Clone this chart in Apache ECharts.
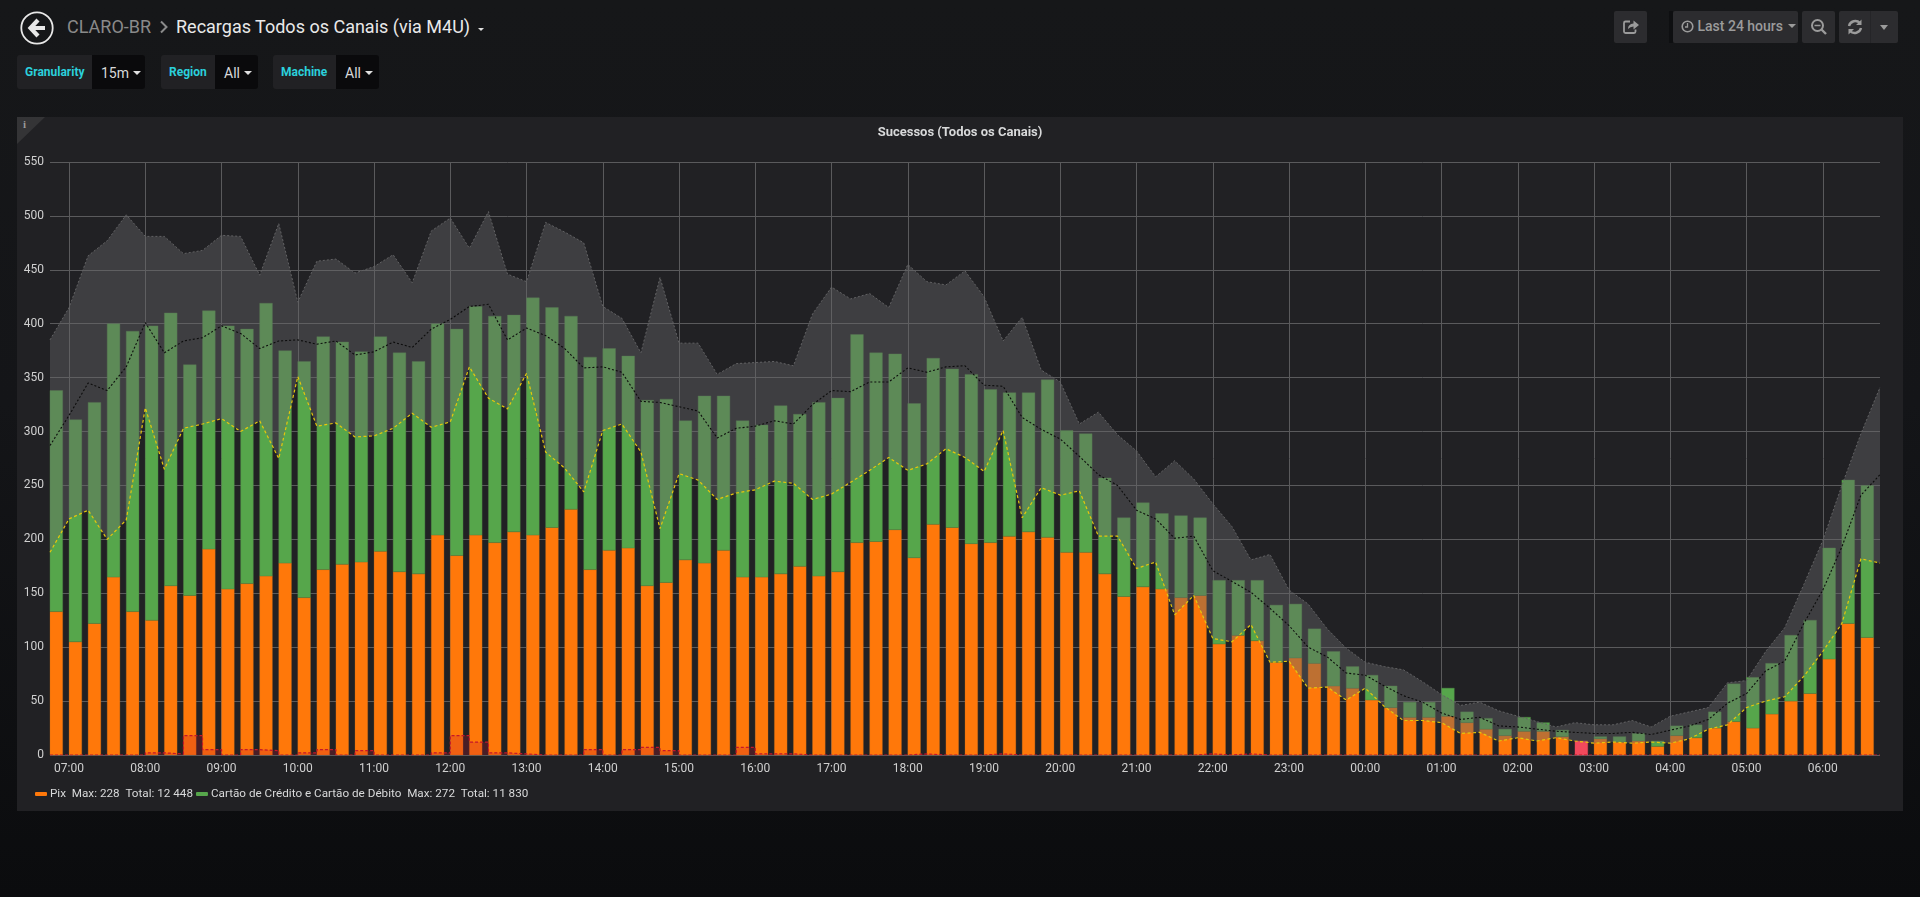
<!DOCTYPE html>
<html>
<head>
<meta charset="utf-8">
<title>Recargas Todos os Canais (via M4U)</title>
<script src="https://cdn.jsdelivr.net/npm/echarts@6/dist/echarts.min.js"></script>
<style>
html,body{margin:0;padding:0;width:1920px;height:897px;overflow:hidden;font-family:Roboto,"Open Sans",sans-serif;background:linear-gradient(#161719 0,#141518 45%,#0b0c0e 100%);}
.a{position:absolute;box-sizing:border-box;white-space:nowrap;}
#panel{left:17px;top:117px;width:1886px;height:694px;background:#212124;}
#corner{left:17px;top:117px;width:0;height:0;border-top:27px solid #343436;border-right:28px solid transparent;}
#info{left:23px;top:118px;font:bold 11px "Liberation Serif",serif;color:#9a9a9a;}
#chart{left:0;top:0;width:1920px;height:897px;}
.crumb{font-size:18px;line-height:24px;top:15px;}
.lab{height:34px;top:55px;background:#212124;color:#2bd0dc;font-weight:bold;font-size:12px;line-height:35px;padding-left:8px;border-radius:3px 0 0 3px;}
.val{height:34px;top:55px;background:#0a0a0c;color:#d8d9da;font-size:14px;line-height:36px;padding-left:9px;border-radius:0 3px 3px 0;}
.caret{display:inline-block;width:0;height:0;border-left:4px solid transparent;border-right:4px solid transparent;border-top:4px solid #e0e0e0;vertical-align:middle;margin-left:4px;margin-top:-3px;}
.btn{top:11px;height:32px;background:#2c2c2f;border-radius:2px;color:#9b9b9b;}
</style>
</head>
<body>
<div class="a" id="panel"></div>
<div class="a" id="corner"></div>
<div class="a" id="info">i</div>

<svg class="a" style="left:20px;top:11px" width="34" height="34" viewBox="0 0 34 34">
  <circle cx="17" cy="17" r="15.7" fill="none" stroke="#e8e8e8" stroke-width="1.8"/>
  <path d="M18 9 L10.5 17 L18 25 M11 17 H25" fill="none" stroke="#e8e8e8" stroke-width="4.2"/>
</svg>
<div class="a crumb" style="left:67px;color:#8a8a8a">CLARO-BR</div>
<svg class="a" style="left:159px;top:20px" width="10" height="14" viewBox="0 0 10 14"><path d="M2 1.5 L7.5 7 L2 12.5" fill="none" stroke="#8a8a8a" stroke-width="2"/></svg>
<div class="a crumb" style="left:176px;color:#e9e9e9">Recargas Todos os Canais (via M4U)</div>
<div class="a" style="left:478px;top:28px;width:0;height:0;border-left:3px solid transparent;border-right:3px solid transparent;border-top:3px solid #e0e0e0"></div>

<div class="a lab" style="left:17px;width:75px">Granularity</div><div class="a val" style="left:92px;width:53px">15m<span class="caret"></span></div>
<div class="a lab" style="left:161px;width:54px">Region</div><div class="a val" style="left:215px;width:43px">All<span class="caret"></span></div>
<div class="a lab" style="left:273px;width:63px">Machine</div><div class="a val" style="left:336px;width:43px">All<span class="caret"></span></div>

<div class="a btn" style="left:1614px;width:33px">
  <svg width="33" height="32" viewBox="0 0 33 32"><path d="M16 10.500 H11.500 Q10 10.500 10 12 V20.500 Q10 22 11.500 22 H20 Q21.500 22 21.500 20.500 V18.500" fill="none" stroke="#9b9b9b" stroke-width="1.800"/><path d="M14 18 Q14 13 19.500 12.500 V9.500 L25 14 L19.500 18.500 V15.500 Q16 15.500 14 18 Z" fill="#9b9b9b"/></svg>
</div>
<div class="a" style="left:1669px;top:11px;width:4px;height:32px;background:#0e0f11"></div>
<div class="a btn" style="left:1673px;width:125px;font-size:14px;line-height:31px;padding-left:8px;font-weight:500">
  <svg width="13" height="13" viewBox="0 0 13 13" style="vertical-align:-2px"><circle cx="6.500" cy="6.500" r="5.300" fill="none" stroke="#9b9b9b" stroke-width="1.600"/><path d="M6.500 3 V7 H4" fill="none" stroke="#9b9b9b" stroke-width="1.300"/></svg>
  Last 24 hours<span class="caret" style="border-left-width:4.500px;border-right-width:4.500px;border-top:4.500px solid #9b9b9b;margin-left:5px"></span>
</div>
<div class="a btn" style="left:1802px;width:33px">
  <svg width="33" height="32" viewBox="0 0 33 32"><circle cx="15.500" cy="14.500" r="5.500" fill="none" stroke="#9b9b9b" stroke-width="2"/><path d="M12.500 14.500 H18.500" stroke="#9b9b9b" stroke-width="1.500"/><path d="M19.500 18.500 L24 23" stroke="#9b9b9b" stroke-width="2.400"/></svg>
</div>
<div class="a btn" style="left:1839px;width:59px">
  <svg width="32" height="32" viewBox="0 0 32 32"><path d="M10 15 A6.500 6.500 0 0 1 21 12 M22 17 A6.500 6.500 0 0 1 11 20" fill="none" stroke="#9b9b9b" stroke-width="2.400"/><path d="M22.500 8.500 V14 H17 Z M9.500 23.500 V18 H15 Z" fill="#9b9b9b"/></svg>
  <div class="a" style="left:31px;top:0;width:1px;height:32px;background:#252528"></div>
  <div class="a" style="left:41px;top:14px;width:0;height:0;border-left:4.500px solid transparent;border-right:4.500px solid transparent;border-top:5px solid #9b9b9b"></div>
</div>

<div class="a" id="chart"></div>

<script>
// 15-minute points from 06:45 to 06:45 next day
var pixValues = [
  133,105,122,165,133,125,157,148,191,154,
  159,166,178,146,172,177,179,189,170,168,
  204,185,204,197,207,204,211,228,172,190,
  192,157,160,181,178,190,165,165,168,175,
  166,170,197,198,209,183,214,211,196,197,
  203,207,202,188,188,168,147,156,154,146,
  148,103,111,106,86,90,85,64,62,51,
  44,35,35,36,30,24,18,22,22,17,
  null,15,12,13,8,18,16,25,31,25,
  38,50,57,89,122,109
];
// top of the stacked bar (Pix + Cartão)
var stackedTop = [
  338,311,327,400,393,398,410,362,412,398,
  395,419,375,365,388,383,374,388,373,365,
  400,395,416,407,408,424,415,407,369,377,
  370,329,330,310,333,333,310,306,324,316,
  327,331,390,373,372,326,368,358,353,339,
  336,336,348,301,298,257,220,234,224,222,
  220,162,162,162,139,140,117,96,82,74,
  64,49,49,62,40,34,24,35,30,23,
  null,17,17,20,13,27,28,40,66,72,
  85,111,125,192,255,250
];
var pinkValues = [];
pinkValues[80] = 13;
var upperLine = [
  385,415,463,477,501,481,481,465,468,482,
  481,445,493,420,458,460,447,453,464,438,
  486,498,470,504,446,439,494,485,475,416,
  405,373,443,382,382,353,363,364,365,361,
  409,434,423,428,415,455,439,436,449,425,
  384,406,357,346,307,318,297,282,258,273,
  256,233,212,181,186,153,140,117,99,86,
  82,79,68,56,46,49,41,36,31,26,
  30,28,28,32,26,36,40,44,67,69,
  96,118,158,199,250,298,341
];
var blackLine = [
  287,315,345,338,360,401,373,384,387,398,
  391,377,384,385,381,384,371,374,383,378,
  395,404,416,418,385,396,389,377,359,360,
  355,328,327,323,319,294,303,305,310,307,
  325,338,337,346,346,359,355,360,361,343,
  342,313,302,293,277,260,250,227,219,201,
  203,171,161,151,136,120,100,91,76,74,
  64,55,49,39,33,35,27,26,24,22,
  21,20,20,21,19,23,27,33,48,57,
  78,87,122,153,193,241,260
];
var yellowLine = [
  188,219,227,200,218,322,265,303,307,312,
  300,310,275,351,305,308,295,296,303,317,
  304,309,360,331,321,354,281,266,244,301,
  307,281,210,261,255,237,243,246,254,252,
  237,242,253,264,276,264,270,284,276,263,
  301,220,248,241,245,203,203,173,179,130,
  148,108,105,121,86,87,62,63,51,62,
  45,32,32,30,20,21,13,16,13,16,
  13,11,12,11,12,11,15,24,28,44,
  50,54,73,96,122,182,178
];
var redValues = [
  0,0,0,0,0,2,1,18,5,0,
  5,4,0,2,5,0,4,0,0,0,
  2,18,12,2,1,0,0,0,5,0,
  5,7,4,0,0,0,7,1,1,0,
  0,0,0,0,0,1,0,0,0,1,
  0,0,0,0,0,0,0,0,0,0,
  1,0,1,0,0,0,0,0,0,0,
  0,0,0,0,0,0,0,0,0,0,
  0,0,0,0,0,0,0,0,0,0,
  0,0,0,0,0,0,0
];
var pixName = 'Pix';
var cardName = 'Cartão de Crédito e Cartão de Débito';
var legendText = {};
legendText[pixName] = 'Pix  Max: 228  Total: 12 448';
legendText[cardName] = 'Cartão de Crédito e Cartão de Débito  Max: 272  Total: 11 830';
var pageTitle = 'Sucessos (Todos os Canais)';

var STEP = 15 * 60000;
var startTime = new Date(2024, 0, 15, 6, 45).getTime();
var endTime = startTime + 96 * STEP;
var BAR_SPAN = 10 * 60000;   // a bar starts at its timestamp and lasts 10 minutes

function pairs(arr, n) {
  var out = [];
  for (var i = 0; i < n; i++) {
    out.push([startTime + i * STEP, arr[i] == null ? null : arr[i]]);
  }
  return out;
}
// [time, base, top] for a stacked segment
function segments(bases, tops) {
  var out = [];
  for (var i = 0; i < tops.length; i++) {
    if (tops[i] != null) out.push([startTime + i * STEP, bases ? bases[i] : 0, tops[i]]);
  }
  return out;
}
function barSeries(name, color, stroke, data) {
  return {
    name: name, type: 'custom', z: 2, itemStyle: { color: color },
    encode: { x: 0, y: [1, 2] },
    renderItem: function (params, api) {
      var a = api.coord([api.value(0), api.value(2)]);
      var b = api.coord([api.value(0) + BAR_SPAN, api.value(1)]);
      return {
        type: 'rect',
        shape: { x: a[0], y: a[1], width: b[0] - a[0], height: b[1] - a[1] },
        style: { fill: color, stroke: stroke, lineWidth: 0.5 }
      };
    },
    data: data
  };
}
var bandHeight = upperLine.map(function (v, i) { return v - yellowLine[i]; });
var pinkTops = [];
for (var k = 0; k < 96; k++) pinkTops[k] = pinkValues[k] == null ? null : pinkValues[k];

var chart = echarts.init(document.getElementById('chart'), null, { renderer: 'canvas' });
var fontFam = 'Roboto, sans-serif';
chart.setOption({
  animation: false,
  backgroundColor: 'transparent',
  title: {
    text: pageTitle, left: 955, top: 121, textAlign: 'center',
    textStyle: { color: '#d8d9da', fontFamily: fontFam, fontWeight: 'bold', fontSize: 13 }
  },
  legend: {
    left: 30, top: 783, itemWidth: 12, itemHeight: 4, itemGap: 3, icon: 'roundRect', selectedMode: false,
    data: [pixName, cardName],
    formatter: function (n) { return legendText[n]; },
    textStyle: { color: '#d8d9da', fontFamily: fontFam, fontSize: 11.7, padding: [0, 0, 0, -2] }
  },
  grid: { left: 50, right: 40, top: 162, height: 593 },
  xAxis: {
    type: 'time', min: startTime, max: endTime,
    minInterval: 3600000, maxInterval: 3600000,
    axisLine: { show: false }, axisTick: { show: false },
    axisLabel: {
      color: '#d0d0d0', fontFamily: fontFam, fontSize: 12, margin: 8,
      showMinLabel: false, showMaxLabel: false, hideOverlap: false,
      formatter: '{HH}:{mm}'
    },
    splitLine: { show: true, showMinLine: false, showMaxLine: false, lineStyle: { color: '#5a5a5c', width: 1 } }
  },
  yAxis: {
    type: 'value', min: 0, max: 550, interval: 50,
    axisLine: { show: false }, axisTick: { show: false },
    axisLabel: { color: '#d0d0d0', fontFamily: fontFam, fontSize: 12, margin: 6 },
    splitLine: { show: true, lineStyle: { color: '#5a5a5c', width: 1 } }
  },
  series: [
    barSeries(pixName, '#ff780a', 'rgba(190,110,30,0.6)', segments(null, pixValues)),
    barSeries(cardName, '#56a64b', 'rgba(80,130,70,0.8)', segments(pixValues, stackedTop)),
    barSeries('Erros', '#f2495c', 'rgba(242,73,92,0.8)', segments(null, pinkTops)),
    {
      name: 'Falhas', type: 'line', step: 'end', showSymbol: false, z: 3,
      lineStyle: { color: '#c4162a', width: 1.2, type: [3, 2] },
      areaStyle: { color: '#c4162a', opacity: 0.25 },
      data: pairs(redValues, 97)
    },
    {
      name: 'Média', type: 'line', stack: 'band', showSymbol: false, z: 5,
      lineStyle: { color: '#e5c70c', width: 1.2, type: [3, 2.5] },
      data: pairs(yellowLine, 97)
    },
    {
      name: 'Máximo', type: 'line', stack: 'band', showSymbol: false, z: 4,
      lineStyle: { color: '#626264', width: 1, type: [2, 2] },
      areaStyle: { color: 'rgb(103,103,104)', opacity: 0.43 },
      data: pairs(bandHeight, 97)
    },
    {
      name: 'Ontem', type: 'line', showSymbol: false, z: 5,
      lineStyle: { color: '#0c0c0c', width: 1.1, type: [2, 2] },
      data: pairs(blackLine, 97)
    }
  ]
});
</script>
</body>
</html>
